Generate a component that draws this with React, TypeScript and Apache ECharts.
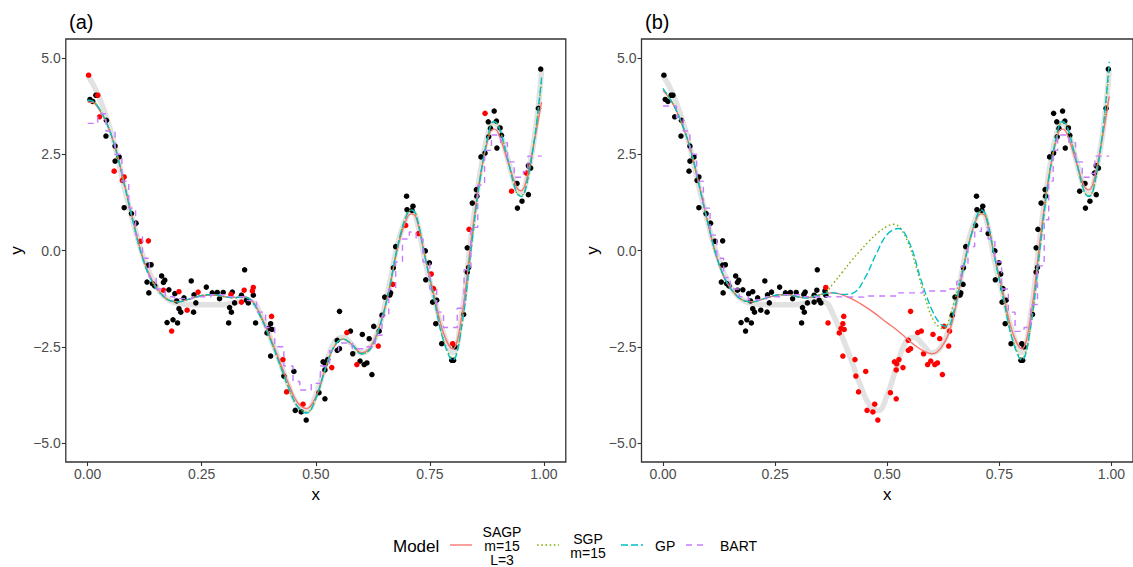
import React, { useEffect, useRef } from "react";
import * as echarts from "echarts";

const FONT = "'Liberation Sans', Arial, Helvetica, sans-serif";

// x tick values / y tick values
const X_TICKS = [0, 0.25, 0.5, 0.75, 1.0];
const Y_TICKS = [-5, -2.5, 0, 2.5, 5];
const PANEL_TITLES = ["(a)", "(b)"];
const MODEL_NAMES = ["SAGP\nm=15\nL=3", "SGP\nm=15", "GP", "BART"];
const MODEL_COLORS = ["#F8766D", "#7CAE00", "#00BFC4", "#C77CFF"];

// observations: [x, y, red in panel (a), red in panel (b)]
const POINTS: number[][] = [
  [0.002, 4.55, 1, 0], [0.005, 3.92, 0, 0], [0.011, 3.87, 0, 0], [0.018, 4.03, 0, 0],
  [0.022, 4.03, 1, 0], [0.026, 3.47, 1, 0], [0.041, 3.38, 0, 0], [0.040, 2.97, 0, 0],
  [0.060, 2.71, 0, 0], [0.069, 2.43, 0, 0], [0.060, 2.32, 0, 0], [0.058, 2.06, 1, 0],
  [0.080, 1.91, 1, 0], [0.076, 1.82, 1, 0], [0.080, 1.11, 0, 0], [0.096, 0.96, 0, 0],
  [0.106, 0.71, 0, 0], [0.116, 0.24, 1, 0], [0.133, 0.25, 1, 0], [0.133, -0.38, 0, 0],
  [0.139, -0.37, 0, 0], [0.130, -0.82, 0, 0], [0.142, -0.86, 0, 0], [0.147, -0.92, 0, 0],
  [0.134, -1.10, 0, 0], [0.162, -0.66, 0, 0], [0.169, -0.77, 0, 0], [0.166, -0.83, 0, 0],
  [0.166, -1.03, 1, 0], [0.178, -1.02, 0, 0], [0.191, -1.12, 0, 0], [0.200, -1.07, 1, 0],
  [0.195, -1.31, 0, 0], [0.200, -1.51, 0, 0], [0.204, -1.60, 0, 0], [0.218, -1.55, 1, 0],
  [0.174, -1.87, 0, 0], [0.187, -1.80, 0, 0], [0.197, -1.88, 0, 0], [0.184, -2.09, 1, 0],
  [0.211, -1.23, 0, 0], [0.227, -0.79, 0, 0], [0.232, -1.60, 0, 0], [0.233, -1.15, 0, 0],
  [0.242, -1.08, 1, 0], [0.237, -1.36, 0, 0], [0.260, -0.95, 0, 0], [0.273, -1.10, 0, 0],
  [0.284, -1.09, 0, 0], [0.297, -1.09, 0, 0], [0.289, -1.25, 0, 0], [0.309, -1.88, 0, 0],
  [0.311, -1.48, 0, 0], [0.315, -1.60, 0, 0], [0.317, -1.08, 0, 0], [0.314, -1.14, 1, 0],
  [0.322, -1.36, 0, 0], [0.337, -1.16, 0, 0], [0.337, -1.34, 1, 0], [0.344, -0.50, 0, 0],
  [0.343, -1.03, 1, 0], [0.352, -1.36, 0, 0], [0.348, -1.29, 0, 0], [0.361, -1.05, 1, 0],
  [0.363, -1.16, 0, 0],
  [0.363, -0.96, 1, 1], [0.368, -1.88, 0, 1], [0.403, -1.71, 1, 1], [0.401, -1.90, 0, 1],
  [0.404, -2.05, 0, 1], [0.397, -2.02, 0, 1], [0.393, -2.14, 0, 1], [0.401, -2.74, 0, 1],
  [0.428, -2.83, 1, 1], [0.430, -3.26, 0, 1], [0.452, -3.14, 0, 1], [0.436, -3.67, 1, 1],
  [0.472, -3.99, 1, 1], [0.455, -4.15, 0, 1], [0.468, -4.19, 0, 1], [0.479, -4.40, 0, 1],
  [0.507, -3.69, 0, 1], [0.520, -3.85, 0, 1], [0.516, -2.89, 0, 1], [0.521, -2.94, 0, 1],
  [0.526, -2.83, 0, 1], [0.520, -3.10, 0, 1], [0.535, -3.04, 1, 1], [0.547, -2.59, 0, 1],
  [0.552, -2.55, 0, 1], [0.547, -2.33, 0, 1], [0.552, -1.58, 0, 1], [0.568, -2.13, 1, 1],
  [0.576, -2.09, 0, 1], [0.581, -2.68, 0, 1], [0.602, -2.18, 0, 1], [0.590, -2.96, 1, 1],
  [0.597, -2.87, 0, 1], [0.606, -2.96, 0, 1], [0.612, -2.92, 0, 1], [0.623, -3.22, 0, 1],
  [0.617, -2.29, 0, 1], [0.627, -1.97, 0, 1], [0.637, -2.48, 1, 1], [0.639, -2.09, 0, 1],
  [0.645, -1.68, 0, 0], [0.651, -1.21, 0, 0], [0.662, -1.16, 0, 0], [0.664, -1.10, 0, 0],
  [0.669, -0.88, 1, 0], [0.670, -0.45, 0, 0], [0.675, 0.10, 0, 0], [0.697, 0.65, 1, 0],
  [0.699, 1.41, 0, 0], [0.700, 1.06, 0, 0], [0.713, 1.15, 0, 0], [0.711, 1.04, 0, 0],
  [0.725, 0.44, 1, 0], [0.740, -0.01, 0, 0], [0.749, -0.32, 0, 0], [0.741, -0.76, 0, 0],
  [0.753, -0.61, 1, 0], [0.758, -0.99, 1, 0], [0.765, -1.29, 0, 0], [0.756, -1.34, 0, 0],
  [0.763, -1.90, 0, 0], [0.776, -2.42, 0, 0], [0.800, -2.42, 1, 0], [0.805, -2.50, 0, 0],
  [0.798, -2.85, 0, 0], [0.802, -2.85, 0, 0], [0.824, -1.66, 0, 0], [0.832, -0.56, 0, 0],
  [0.835, -0.44, 0, 0], [0.832, 0.07, 0, 0], [0.836, 0.55, 1, 0], [0.843, 1.23, 0, 0],
  [0.853, 1.41, 0, 0], [0.852, 1.58, 0, 0], [0.862, 2.43, 0, 0], [0.871, 2.53, 0, 0],
  [0.871, 3.56, 1, 0], [0.891, 3.62, 0, 0], [0.878, 3.34, 0, 0], [0.896, 3.36, 0, 0],
  [0.883, 3.17, 0, 0], [0.879, 2.95, 0, 0], [0.904, 3.18, 0, 0], [0.907, 2.99, 0, 0],
  [0.897, 2.66, 0, 0], [0.929, 1.54, 1, 0], [0.941, 1.74, 0, 0], [0.952, 1.28, 0, 0],
  [0.942, 1.10, 0, 0], [0.966, 1.45, 0, 0], [0.962, 2.01, 1, 0], [0.971, 2.14, 0, 0],
  [0.966, 2.20, 0, 0], [0.988, 3.69, 0, 0], [0.993, 4.71, 0, 0],
];

// true function (thick grey curve)
const TRUTH: number[][] = [
  [0.0, 4.55], [0.02, 4.12], [0.04, 3.5], [0.06, 2.7], [0.08, 1.65], [0.1, 0.72],
  [0.12, -0.1], [0.14, -0.7], [0.16, -1.1], [0.18, -1.3], [0.2, -1.38], [0.22, -1.4],
  [0.24, -1.41], [0.26, -1.41], [0.28, -1.41], [0.3, -1.4], [0.32, -1.37], [0.34, -1.3],
  [0.36, -1.33], [0.38, -1.68], [0.4, -2.25], [0.42, -2.85], [0.44, -3.5], [0.46, -4.0],
  [0.48, -4.15], [0.5, -3.75], [0.52, -3.05], [0.54, -2.4], [0.56, -2.25], [0.58, -2.45],
  [0.6, -2.66], [0.62, -2.5], [0.64, -1.95], [0.66, -0.95], [0.68, 0.2], [0.7, 0.9],
  [0.71, 1.0], [0.72, 0.85], [0.74, -0.3], [0.76, -1.25], [0.78, -2.15], [0.8, -2.65],
  [0.82, -1.65], [0.84, 0.3], [0.86, 2.0], [0.88, 3.15], [0.89, 3.3], [0.9, 3.2],
  [0.92, 2.4], [0.94, 1.6], [0.95, 1.5], [0.96, 1.72], [0.98, 3.0], [0.995, 4.7],
];

// panel (a) model fits
const SAGP_A: number[][] = [
  [0, 3.85], [0.01, 3.85], [0.02, 3.75], [0.04, 3.35], [0.06, 2.7], [0.08, 1.75], [0.1, 0.75],
  [0.12, -0.15], [0.14, -0.75], [0.16, -1.1], [0.18, -1.3], [0.2, -1.33], [0.22, -1.27],
  [0.24, -1.2], [0.26, -1.16], [0.28, -1.16], [0.3, -1.2], [0.32, -1.22], [0.34, -1.2],
  [0.36, -1.3], [0.38, -1.7], [0.4, -2.25], [0.42, -2.85], [0.44, -3.45], [0.46, -3.95],
  [0.48, -4.1], [0.5, -3.8], [0.52, -3.1], [0.54, -2.5], [0.56, -2.3], [0.58, -2.45],
  [0.6, -2.65], [0.62, -2.5], [0.64, -1.95], [0.66, -1.05], [0.68, 0.1], [0.7, 0.85],
  [0.71, 0.95], [0.72, 0.85], [0.74, -0.2], [0.76, -1.2], [0.78, -2.15], [0.8, -2.55],
  [0.82, -1.7], [0.84, 0.2], [0.86, 1.9], [0.88, 3.0], [0.89, 3.15], [0.9, 3.05],
  [0.92, 2.35], [0.94, 1.65], [0.95, 1.55], [0.96, 1.75], [0.98, 2.9], [0.995, 3.85],
];
const SGP_A: number[][] = [
  [0, 3.9], [0.01, 3.88], [0.02, 3.78], [0.04, 3.35], [0.06, 2.68], [0.08, 1.72], [0.1, 0.72],
  [0.12, -0.18], [0.14, -0.78], [0.16, -1.12], [0.18, -1.3], [0.2, -1.33], [0.22, -1.27],
  [0.24, -1.2], [0.26, -1.15], [0.28, -1.15], [0.3, -1.2], [0.32, -1.23], [0.34, -1.2],
  [0.36, -1.32], [0.38, -1.75], [0.4, -2.3], [0.42, -2.92], [0.44, -3.55], [0.46, -4.05],
  [0.48, -4.2], [0.5, -3.85], [0.52, -3.1], [0.54, -2.5], [0.56, -2.3], [0.58, -2.45],
  [0.6, -2.68], [0.62, -2.55], [0.64, -1.98], [0.66, -1.05], [0.68, 0.15], [0.7, 0.95],
  [0.71, 1.05], [0.72, 0.92], [0.74, -0.2], [0.76, -1.3], [0.78, -2.32], [0.8, -2.8],
  [0.82, -1.95], [0.84, 0.0], [0.86, 1.85], [0.88, 3.1], [0.89, 3.33], [0.9, 3.25],
  [0.92, 2.4], [0.94, 1.5], [0.95, 1.42], [0.96, 1.62], [0.98, 2.95], [0.995, 4.4],
];
const GP_A: number[][] = [
  [0, 3.9], [0.01, 3.88], [0.02, 3.78], [0.04, 3.35], [0.06, 2.68], [0.08, 1.72], [0.1, 0.72],
  [0.12, -0.18], [0.14, -0.78], [0.16, -1.12], [0.18, -1.3], [0.2, -1.33], [0.22, -1.27],
  [0.24, -1.2], [0.26, -1.15], [0.28, -1.15], [0.3, -1.2], [0.32, -1.23], [0.34, -1.2],
  [0.36, -1.32], [0.38, -1.75], [0.4, -2.3], [0.42, -2.92], [0.44, -3.55], [0.46, -4.05],
  [0.48, -4.22], [0.5, -3.85], [0.52, -3.1], [0.54, -2.5], [0.56, -2.3], [0.58, -2.45],
  [0.6, -2.68], [0.62, -2.55], [0.64, -1.98], [0.66, -1.05], [0.68, 0.15], [0.7, 0.95],
  [0.71, 1.05], [0.72, 0.92], [0.74, -0.2], [0.76, -1.3], [0.78, -2.35], [0.8, -2.85],
  [0.82, -1.95], [0.84, 0.0], [0.86, 1.85], [0.88, 3.1], [0.89, 3.35], [0.9, 3.25],
  [0.92, 2.4], [0.94, 1.5], [0.95, 1.4], [0.96, 1.6], [0.98, 2.95], [0.995, 4.5],
];
const BART_A: number[][] = [
  [0, 3.3], [0.022, 3.55], [0.04, 3.1], [0.06, 2.5], [0.075, 1.8], [0.09, 1.1], [0.105, 0.4],
  [0.12, -0.2], [0.135, -0.7], [0.15, -1.0], [0.17, -1.2], [0.19, -1.25], [0.23, -1.2],
  [0.27, -1.15], [0.31, -1.2], [0.35, -1.3], [0.37, -1.6], [0.39, -2.0], [0.41, -2.5],
  [0.43, -3.0], [0.45, -3.4], [0.465, -3.62], [0.49, -3.45], [0.51, -3.0], [0.53, -2.6],
  [0.55, -2.4], [0.58, -2.55], [0.61, -2.5], [0.63, -2.2], [0.645, -1.7], [0.66, -1.0],
  [0.675, -0.3], [0.69, 0.3], [0.705, 0.48], [0.72, 0.3], [0.735, -0.3], [0.75, -1.0],
  [0.765, -1.6], [0.78, -2.0], [0.81, -1.5], [0.825, -0.5], [0.84, 0.6], [0.855, 1.7],
  [0.87, 2.6], [0.885, 3.0], [0.905, 2.8], [0.92, 2.3], [0.935, 1.9], [0.955, 2.05],
  [0.965, 2.45], [0.995, 2.45],
];

// panel (b) model fits
const SAGP_B: number[][] = [
  [0, 4.15], [0.02, 3.85], [0.04, 3.35], [0.06, 2.68], [0.08, 1.72], [0.1, 0.72],
  [0.12, -0.18], [0.14, -0.78], [0.16, -1.12], [0.18, -1.3], [0.2, -1.33], [0.22, -1.27],
  [0.24, -1.2], [0.26, -1.15], [0.28, -1.15], [0.3, -1.2], [0.32, -1.23], [0.34, -1.18],
  [0.36, -1.12], [0.38, -1.1], [0.4, -1.15], [0.42, -1.25], [0.44, -1.38], [0.46, -1.53],
  [0.48, -1.7], [0.5, -1.88], [0.52, -2.05], [0.54, -2.25], [0.56, -2.45], [0.58, -2.6],
  [0.6, -2.68], [0.62, -2.52], [0.64, -2.05], [0.66, -1.05], [0.68, 0.1], [0.7, 0.85],
  [0.71, 0.95], [0.72, 0.85], [0.74, -0.2], [0.76, -1.2], [0.78, -2.15], [0.8, -2.55],
  [0.82, -1.7], [0.84, 0.2], [0.86, 1.9], [0.88, 3.0], [0.89, 3.15], [0.9, 3.05],
  [0.92, 2.35], [0.94, 1.65], [0.95, 1.58], [0.96, 1.78], [0.98, 2.95], [0.995, 4.0],
];
const SGP_B: number[][] = [
  [0, 4.2], [0.02, 3.85], [0.04, 3.35], [0.06, 2.68], [0.08, 1.72], [0.1, 0.72],
  [0.12, -0.18], [0.14, -0.78], [0.16, -1.12], [0.18, -1.3], [0.2, -1.33], [0.22, -1.27],
  [0.24, -1.2], [0.26, -1.15], [0.28, -1.15], [0.3, -1.2], [0.32, -1.23], [0.34, -1.18],
  [0.36, -1.12], [0.38, -0.85], [0.4, -0.56], [0.42, -0.27], [0.44, 0.0], [0.46, 0.25],
  [0.48, 0.47], [0.5, 0.63], [0.515, 0.68], [0.53, 0.57], [0.55, 0.1], [0.565, -0.45],
  [0.585, -1.25], [0.605, -1.85], [0.625, -2.03], [0.645, -1.5], [0.665, -0.62], [0.69, 0.5],
  [0.71, 1.02], [0.72, 0.9], [0.74, -0.2], [0.76, -1.3], [0.78, -2.32], [0.8, -2.8],
  [0.82, -1.95], [0.84, 0.0], [0.86, 1.85], [0.88, 3.1], [0.89, 3.33], [0.9, 3.25],
  [0.92, 2.4], [0.94, 1.5], [0.95, 1.42], [0.96, 1.62], [0.98, 3.0], [0.995, 4.75],
];
const GP_B: number[][] = [
  [0, 4.2], [0.02, 3.85], [0.04, 3.35], [0.06, 2.68], [0.08, 1.72], [0.1, 0.72],
  [0.12, -0.18], [0.14, -0.78], [0.16, -1.12], [0.18, -1.3], [0.2, -1.33], [0.22, -1.27],
  [0.24, -1.2], [0.26, -1.15], [0.28, -1.15], [0.3, -1.2], [0.32, -1.23], [0.34, -1.18],
  [0.36, -1.12], [0.38, -1.1], [0.4, -1.14], [0.425, -1.1], [0.45, -0.72], [0.475, -0.1],
  [0.5, 0.42], [0.525, 0.57], [0.55, 0.18], [0.575, -0.75], [0.6, -1.55], [0.62, -1.92],
  [0.635, -1.97], [0.648, -1.6], [0.665, -0.7], [0.69, 0.5], [0.71, 1.05], [0.72, 0.92],
  [0.74, -0.2], [0.76, -1.3], [0.78, -2.35], [0.8, -2.85], [0.82, -1.95], [0.84, 0.0],
  [0.86, 1.85], [0.88, 3.1], [0.89, 3.35], [0.9, 3.25], [0.92, 2.4], [0.94, 1.5],
  [0.95, 1.4], [0.96, 1.6], [0.98, 3.05], [0.995, 4.9],
];
const BART_B: number[][] = [
  [0, 3.75], [0.016, 3.75], [0.03, 3.45], [0.045, 3.1], [0.06, 2.5], [0.075, 1.8], [0.09, 1.1],
  [0.105, 0.4], [0.12, -0.2], [0.135, -0.7], [0.15, -1.0], [0.17, -1.2], [0.19, -1.28],
  [0.23, -1.2], [0.27, -1.15], [0.31, -1.2], [0.35, -1.2], [0.37, -1.21], [0.45, -1.18],
  [0.52, -1.1], [0.58, -1.05], [0.63, -1.0], [0.655, -0.8], [0.665, -0.4], [0.68, 0.1],
  [0.695, 0.5], [0.71, 0.6], [0.725, 0.3], [0.74, -0.3], [0.755, -1.0], [0.77, -1.6],
  [0.785, -2.1], [0.805, -2.0], [0.82, -1.4], [0.835, -0.4], [0.85, 0.8], [0.86, 1.8],
  [0.87, 2.6], [0.88, 3.0], [0.905, 2.8], [0.92, 2.3], [0.935, 1.9], [0.955, 2.0],
  [0.963, 2.45], [0.995, 2.45],
];

const MODELS_A = [SAGP_A, SGP_A, GP_A, BART_A];
const MODELS_B = [SAGP_B, SGP_B, GP_B, BART_B];

const X_MIN = -0.048;
const X_MAX = 1.048;
const Y_MIN = -5.49;
const Y_MAX = 5.49;

const DASHES: any[] = ["solid", [1.6, 2.6], [7, 3], [6, 5]];

export default function App() {
  const ref = useRef<HTMLDivElement>(null);
  useEffect(() => {
    document.body.style.margin = "0";
    const chart = echarts.init(ref.current!, null, { renderer: "svg" });
    const grids = [
      { left: 65.8, top: 39, width: 500, height: 423 },
      { left: 641.5, top: 39, width: 500, height: 423 },
    ].map((g) => ({ ...g, show: true, borderColor: "#333333", borderWidth: 1.3, backgroundColor: "transparent" }));

    const xAxes = [0, 1].map((i) => ({
      gridIndex: i,
      type: "value",
      position: "bottom",
      min: X_MIN,
      max: X_MAX,
      splitLine: { show: false },
      axisLine: { show: false, onZero: false },
      axisTick: { show: true, length: 4, inside: false, customValues: X_TICKS, lineStyle: { color: "#333333", width: 1.1 } },
      axisLabel: {
        customValues: X_TICKS,
        formatter: (v: number) => v.toFixed(2),
        color: "#4D4D4D",
        fontSize: 14,
        fontFamily: FONT,
        margin: 5,
      },
      name: "x",
      nameLocation: "middle",
      nameGap: 24,
      nameTextStyle: { color: "#000", fontSize: 17, fontFamily: FONT },
    }));
    const yAxes = [0, 1].map((i) => ({
      gridIndex: i,
      type: "value",
      position: "left",
      min: Y_MIN,
      max: Y_MAX,
      splitLine: { show: false },
      axisLine: { show: false, onZero: false },
      axisTick: { show: true, length: 4, inside: false, customValues: Y_TICKS, lineStyle: { color: "#333333", width: 1.1 } },
      axisLabel: {
        customValues: Y_TICKS,
        formatter: (v: number) => (v < 0 ? "\u2212" : "") + Math.abs(v).toFixed(1),
        color: "#4D4D4D",
        fontSize: 14,
        fontFamily: FONT,
        margin: 5,
      },
      name: "y",
      nameLocation: "middle",
      nameGap: 41,
      nameTextStyle: { color: "#000", fontSize: 17, fontFamily: FONT },
    }));

    const series: any[] = [];
    [0, 1].forEach((gi) => {
      series.push({
        type: "line",
        xAxisIndex: gi,
        yAxisIndex: gi,
        data: TRUTH,
        symbol: "none",
        smooth: 0.45,
        silent: true,
        z: 1,
        lineStyle: { color: "#E2E2E2", width: 5.5 },
      });
      const flag = gi === 0 ? 2 : 3;
      series.push({
        type: "scatter",
        xAxisIndex: gi,
        yAxisIndex: gi,
        data: POINTS.filter((p) => p[flag] === 0).map((p) => [p[0], p[1]]),
        symbolSize: 5.5,
        itemStyle: { color: "#000000", opacity: 1 },
        silent: true,
        z: 2,
      });
      series.push({
        type: "scatter",
        xAxisIndex: gi,
        yAxisIndex: gi,
        data: POINTS.filter((p) => p[flag] === 1).map((p) => [p[0], p[1]]),
        symbolSize: 5.5,
        itemStyle: { color: "#FF0000", opacity: 1 },
        silent: true,
        z: 2,
      });
      const models = gi === 0 ? MODELS_A : MODELS_B;
      models.forEach((m, k) => {
        const isBart = k === 3;
        series.push({
          type: "line",
          name: MODEL_NAMES[k],
          xAxisIndex: gi,
          yAxisIndex: gi,
          data: m,
          symbol: "none",
          smooth: isBart ? false : 0.4,
          step: isBart ? "end" : false,
          silent: true,
          z: 3 + k,
          lineStyle: { color: MODEL_COLORS[k], width: 1.4, type: DASHES[k] },
        });
      });
    });

    const legendY = 545;
    const keyLine = (x1: number, k: number) => ({
      type: "line",
      shape: { x1, y1: legendY, x2: x1 + 22, y2: legendY },
      style: { stroke: MODEL_COLORS[k], lineWidth: 1.4, lineDash: k === 0 ? null : DASHES[k] },
    });
    const legendText = (x: number, text: string, align: string, size = 14) => ({
      type: "text",
      x,
      y: legendY + 1,
      style: {
        text,
        fill: "#000",
        font: `${size}px ${FONT}`,
        align,
        verticalAlign: "middle",
        lineHeight: 14,
      },
    });

    chart.setOption({
      animation: false,
      backgroundColor: "#ffffff",
      title: PANEL_TITLES.map((t, i) => ({
        text: t,
        left: i === 0 ? 64 : 640,
        top: 7,
        textStyle: { fontSize: 20, fontWeight: "normal", color: "#000", fontFamily: FONT },
      })),
      grid: grids,
      xAxis: xAxes,
      yAxis: yAxes,
      series,
      graphic: [
        legendText(393, "Model", "left", 17),
        keyLine(450, 0),
        legendText(502, MODEL_NAMES[0], "center"),
        keyLine(537, 1),
        legendText(588, MODEL_NAMES[1], "center"),
        keyLine(621, 2),
        legendText(655, MODEL_NAMES[2], "left"),
        keyLine(686, 3),
        legendText(720, MODEL_NAMES[3], "left"),
      ],
    });
    return () => chart.dispose();
  }, []);
  return <div ref={ref} style={{ position: "absolute", left: 0, top: 0, width: 1133, height: 567 }} />;
}
